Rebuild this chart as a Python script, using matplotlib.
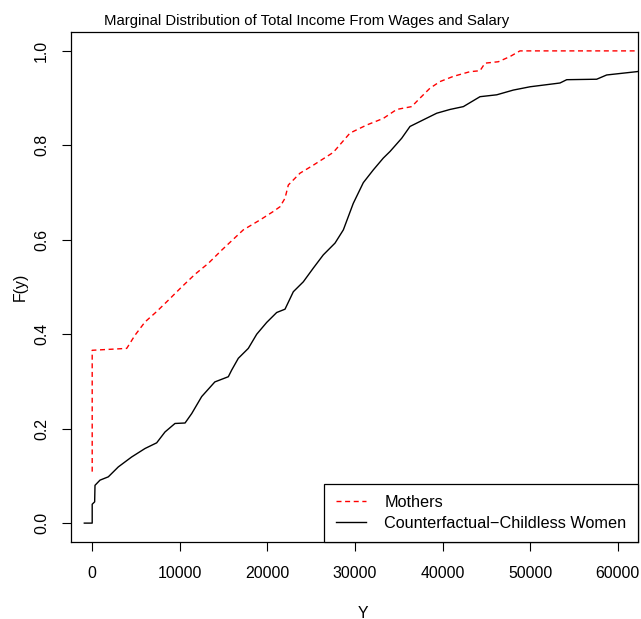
import matplotlib
matplotlib.use("Agg")
import matplotlib.pyplot as plt

plt.rcParams['font.family'] = ['Liberation Sans', 'DejaVu Sans']

title = "Marginal Distribution of Total Income From Wages and Salary"
xlabel = "Y"
ylabel = "F(y)"
labels = ["Mothers", "Counterfactual\u2212Childless Women"]

xticks = [0, 10000, 20000, 30000, 40000, 50000, 60000]
yticks = [0.0, 0.2, 0.4, 0.6, 0.8, 1.0]

# Mothers (red dashed)
mothers_x = [0, 0, 3940, 4890, 6030, 7360, 8690, 10210, 11740, 13250, 14780,
             17250, 19160, 20680, 21440, 22010, 22390, 23720, 25240, 27520,
             29430, 31330, 33230, 34760, 36470, 37420, 38560, 39700, 41220,
             43130, 44270, 44840, 46360, 47690, 48830, 62500]
mothers_y = [0.109, 0.366, 0.370, 0.398, 0.426, 0.448, 0.472, 0.500, 0.527,
             0.550, 0.578, 0.621, 0.642, 0.660, 0.670, 0.688, 0.716, 0.741,
             0.758, 0.785, 0.826, 0.843, 0.857, 0.876, 0.882, 0.900, 0.921,
             0.935, 0.946, 0.956, 0.958, 0.974, 0.977, 0.988, 1.000, 1.000]

# Counterfactual childless women (black solid)
cf_x = [-900, 0, 0, 280, 320, 890, 1840, 2980, 4500, 6030, 7360, 8310, 9450,
        10600, 11360, 12500, 14000, 15540, 15920, 16680, 17820, 18780, 19920,
        21060, 22010, 22960, 24100, 25240, 26380, 27720, 28670, 29800, 30950,
        32090, 33230, 34000, 35330, 36280, 37800, 39330, 40850, 42370, 44270,
        46180, 48070, 49980, 53400, 54170, 57590, 58730, 62160, 62500]
cf_y = [0.0, 0.0, 0.040, 0.045, 0.080, 0.091, 0.098, 0.119, 0.140, 0.158,
        0.170, 0.193, 0.211, 0.212, 0.232, 0.268, 0.299, 0.310, 0.324, 0.349,
        0.370, 0.400, 0.425, 0.446, 0.453, 0.490, 0.511, 0.540, 0.568, 0.593,
        0.621, 0.677, 0.721, 0.748, 0.773, 0.787, 0.815, 0.840, 0.854, 0.868,
        0.876, 0.882, 0.903, 0.907, 0.917, 0.924, 0.932, 0.939, 0.940, 0.949,
        0.956, 0.957]

W, H = 641, 619
fig = plt.figure(figsize=(W / 100, H / 100), dpi=100)
L, R, T, B = 70.7, 638.0, 32.0, 542.0
ax = fig.add_axes([L / W, 1 - B / H, (R - L) / W, (B - T) / H])

fs = 11.4
ax.plot(mothers_x, mothers_y, color='#FF0000', linewidth=1.0,
        linestyle=(0, (3.6, 2.6)), label=labels[0])
ax.plot(cf_x, cf_y, color='black', linewidth=1.0, label=labels[1])

ax.set_xlim(-2454, 62306)
ax.set_ylim(-0.04, 1.04)
ax.set_xticks(xticks)
ax.set_xticklabels([str(v) for v in xticks], fontsize=fs)
ax.set_yticks(yticks)
ax.set_yticklabels([f"{v:.1f}" for v in yticks], fontsize=fs,
                   rotation=90, va='center')
ax.tick_params(direction='out', length=6.5, width=0.8, color='black')
ax.tick_params(axis='x', pad=11)
ax.tick_params(axis='y', pad=9)
for s in ax.spines.values():
    s.set_linewidth(0.9)
    s.set_color('black')

fig.text(306.5 / W, 1 - 21 / H, title, ha='center', va='center', fontsize=10.7)
fig.text(363 / W, 1 - 613 / H, xlabel, ha='center', va='center', fontsize=fs)
fig.text(20 / W, 1 - 287 / H, ylabel, ha='center', va='center', fontsize=fs,
         rotation=90)

leg = ax.legend(loc='lower right', borderaxespad=0, fancybox=False,
                edgecolor='black', framealpha=1, fontsize=11.7,
                handlelength=1.85, handletextpad=1.15, borderpad=0.7,
                labelspacing=0.35)
leg.get_frame().set_linewidth(0.9)

fig.savefig("out.png", dpi=100)
